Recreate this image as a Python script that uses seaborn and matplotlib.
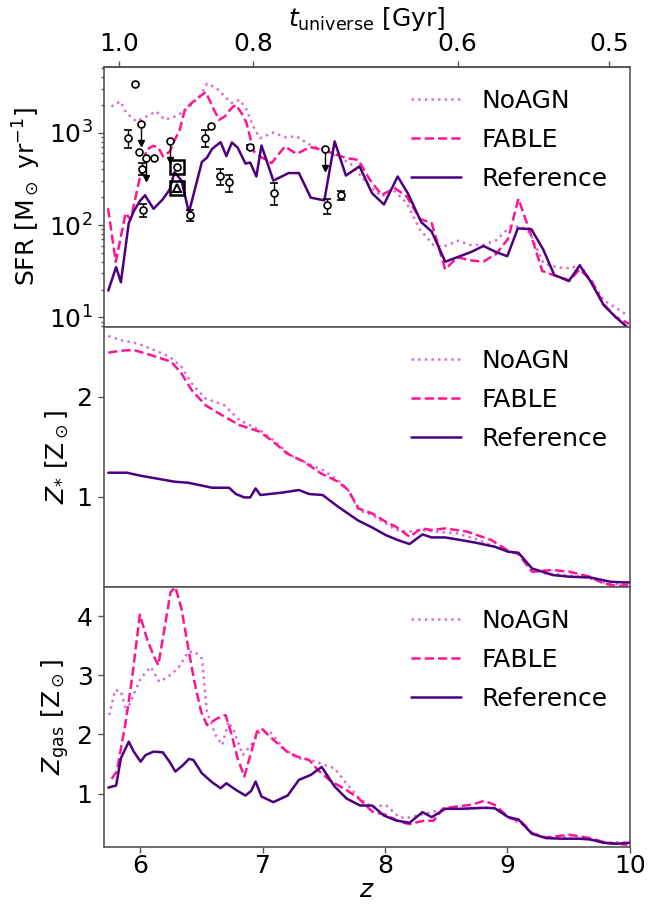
import numpy as np
import matplotlib
matplotlib.use("Agg")
import matplotlib.pyplot as plt
from matplotlib.ticker import NullLocator, LogLocator
import seaborn as sns

# ---------------- data ----------------
# Top panel: SFR [Msun/yr]
sfr_noagn_z = [5.763, 5.837, 5.886, 5.968, 6.050, 6.131, 6.200, 6.281, 6.336, 6.404, 6.486, 6.546,
               6.622, 6.690, 6.745, 6.813, 6.868, 6.922, 6.977, 7.086, 7.181, 7.277, 7.386, 7.495,
               7.604, 7.713, 7.795, 7.877, 7.972, 8.068, 8.177, 8.286, 8.395, 8.477, 8.599, 8.695,
               8.804, 8.913, 9.022, 9.117, 9.186, 9.295, 9.404, 9.513, 9.595, 9.676, 9.785, 9.895, 9.976]
sfr_noagn = [1930, 2189, 1634, 1327, 1503, 1702, 1382, 1503, 1634, 1930, 2478, 3404,
             3055, 2478, 2097, 2279, 1775, 1172, 875, 1007, 897, 912, 741, 653,
             554, 469, 350, 261, 204, 240, 173, 88.6, 60.8, 58.3, 67.8, 60.8,
             60.8, 69, 96, 96, 81.5, 38.5, 34.8, 34.0, 36.9, 25.4, 15.4, 12.5, 10.6]

sfr_fable_z = [5.736, 5.799, 5.880, 5.920, 5.968, 6.009, 6.050, 6.104, 6.145, 6.186, 6.241, 6.282,
               6.322, 6.363, 6.418, 6.486, 6.535, 6.595, 6.644, 6.690, 6.745, 6.780, 6.827, 6.868,
               6.909, 6.928, 6.977, 7.031, 7.072, 7.181, 7.277, 7.386, 7.495, 7.604, 7.686, 7.781,
               7.876, 7.972, 8.081, 8.177, 8.286, 8.381, 8.492, 8.590, 8.715, 8.804, 8.909, 9.007,
               9.090, 9.188, 9.285, 9.396, 9.508, 9.591, 9.689, 9.786, 9.883, 9.995]
sfr_fable = [152, 40, 135, 114, 221, 396, 653, 722, 699, 554, 627, 839,
             1077, 1775, 2097, 2478, 2762, 1851, 1382, 1503, 1851, 2012, 1634, 1273,
             773, 627, 554, 509, 469, 710, 590, 699, 654, 577, 531, 509,
             309, 212, 251, 204, 116, 105, 33, 44.8, 41.1, 40.1, 48.8, 71.5,
             193, 81.2, 31.8, 28.0, 25.1, 33.2, 24.7, 13.9, 10.1, 8.5]

sfr_ref_z = [5.738, 5.802, 5.841, 5.905, 5.946, 5.996, 6.038, 6.108, 6.183, 6.238, 6.280, 6.336,
             6.397, 6.503, 6.544, 6.586, 6.656, 6.703, 6.748, 6.795, 6.859, 6.898, 6.948, 6.990,
             7.087, 7.212, 7.296, 7.393, 7.504, 7.588, 7.680, 7.791, 7.894, 7.991, 8.103, 8.186,
             8.297, 8.381, 8.492, 8.590, 8.701, 8.804, 8.909, 8.999, 9.085, 9.196, 9.291, 9.383,
             9.502, 9.591, 9.675, 9.786, 9.883, 9.995]
sfr_ref = [19.5, 35, 24, 104.7, 141, 182, 210, 150, 190, 241, 375, 303,
           137, 484, 536, 668, 792, 559, 785, 692, 464, 476, 336, 728,
           303, 366, 366, 198, 185, 806, 344, 433, 221, 167, 336, 221,
           107, 85, 40, 44.8, 50.8, 59.3, 50.8, 45.9, 92, 90, 54.9, 28.8,
           24.7, 36.5, 25.1, 13.6, 10.1, 7.5]

# Observations: circles with error bars
obs_z = [5.896, 6.016, 6.024, 6.402, 6.530, 6.655, 6.726, 6.897, 7.092, 7.526, 7.638]
obs_sfr = [880, 408, 145, 129, 880, 340, 290, 710, 225, 163, 210]
obs_err = [195, 60, 22, 18, 180, 70, 60, 35, 62, 30, 22]
# circles without error bars
pt_z = [5.954, 5.988, 6.113, 6.297, 6.581]
pt_sfr = [3420, 625, 527, 427, 1182]
# upper limits
ul_z = [6.005, 6.047, 6.246, 7.510]
ul_sfr = [1253, 527, 819, 668]
# squares and triangle
sq_z = [6.297, 6.297]
sq_sfr = [427, 250]
tri_z = [6.297]
tri_sfr = [250]

# Middle panel: stellar metallicity
zs_noagn_z = [5.738, 5.835, 5.974, 6.113, 6.238, 6.336, 6.419, 6.531, 6.684, 6.809, 6.976, 7.087,
              7.226, 7.337, 7.490, 7.616, 7.699, 7.783, 7.894, 8.005, 8.089, 8.186, 8.297, 8.423,
              8.590, 8.729, 8.896, 9.035, 9.104, 9.201, 9.313, 9.480, 9.675, 9.813, 9.981]
zs_noagn = [2.607, 2.567, 2.533, 2.467, 2.400, 2.300, 2.133, 1.983, 1.917, 1.767, 1.667, 1.567,
            1.417, 1.350, 1.267, 1.167, 1.067, 0.867, 0.817, 0.733, 0.667, 0.650, 0.667, 0.650,
            0.633, 0.583, 0.500, 0.450, 0.417, 0.267, 0.233, 0.217, 0.183, 0.133, 0.117]

zs_fable_z = [5.738, 5.835, 5.946, 6.085, 6.252, 6.336, 6.419, 6.531, 6.642, 6.809, 6.976, 7.087,
              7.198, 7.337, 7.477, 7.616, 7.699, 7.783, 7.894, 8.005, 8.089, 8.200, 8.297, 8.381,
              8.492, 8.673, 8.868, 9.007, 9.090, 9.201, 9.369, 9.508, 9.675, 9.786, 9.897, 9.995]
zs_fable = [2.440, 2.460, 2.467, 2.417, 2.350, 2.233, 2.067, 1.917, 1.833, 1.717, 1.650, 1.550,
            1.433, 1.350, 1.233, 1.150, 1.067, 0.883, 0.833, 0.750, 0.700, 0.600, 0.683, 0.667,
            0.683, 0.650, 0.567, 0.460, 0.427, 0.250, 0.267, 0.250, 0.200, 0.133, 0.107, 0.117]

zs_ref_z = [5.738, 5.891, 6.002, 6.127, 6.280, 6.391, 6.586, 6.725, 6.781, 6.850, 6.898, 6.942,
            6.981, 7.170, 7.296, 7.379, 7.490, 7.616, 7.783, 7.894, 8.005, 8.103, 8.200, 8.306,
            8.381, 8.492, 8.617, 8.729, 8.896, 9.007, 9.090, 9.201, 9.369, 9.508, 9.675, 9.842,
            9.953, 9.995]
zs_ref = [1.240, 1.240, 1.210, 1.183, 1.150, 1.140, 1.090, 1.090, 1.027, 0.993, 0.993, 1.083,
          1.017, 1.043, 1.067, 1.027, 1.017, 0.900, 0.760, 0.693, 0.617, 0.567, 0.527, 0.623,
          0.593, 0.593, 0.567, 0.543, 0.500, 0.450, 0.440, 0.283, 0.217, 0.200, 0.193, 0.150,
          0.143, 0.143]

# Bottom panel: gas metallicity
zg_noagn_z = [5.746, 5.793, 5.841, 5.885, 5.932, 6.002, 6.085, 6.155, 6.224, 6.308, 6.391, 6.447,
              6.503, 6.544, 6.614, 6.670, 6.720, 6.767, 6.837, 6.906, 6.976, 7.059, 7.171, 7.282,
              7.393, 7.504, 7.588, 7.671, 7.783, 7.894, 8.005, 8.117, 8.200, 8.311, 8.423, 8.534,
              8.673, 8.812, 8.896, 9.007, 9.118, 9.201, 9.313, 9.480, 9.647, 9.814, 9.981]
zg_noagn = [2.328, 2.750, 2.733, 2.384, 2.609, 2.947, 3.144, 2.891, 2.975, 3.116, 3.398, 3.398,
            3.285, 2.384, 1.990, 1.822, 2.216, 2.047, 1.653, 1.822, 2.047, 2.047, 1.766, 1.597,
            1.569, 1.484, 1.428, 1.203, 0.932, 0.764, 0.809, 0.595, 0.595, 0.651, 0.707, 0.752,
            0.735, 0.764, 0.752, 0.595, 0.482, 0.325, 0.257, 0.257, 0.229, 0.173, 0.173]

zg_fable_z = [5.765, 5.807, 5.877, 5.932, 5.996, 6.058, 6.113, 6.147, 6.197, 6.247, 6.286, 6.336,
              6.397, 6.442, 6.497, 6.544, 6.628, 6.697, 6.739, 6.795, 6.850, 6.892, 6.953, 6.990,
              7.059, 7.198, 7.282, 7.379, 7.449, 7.560, 7.671, 7.783, 7.894, 8.005, 8.117, 8.200,
              8.311, 8.395, 8.478, 8.590, 8.701, 8.812, 8.896, 9.007, 9.118, 9.201, 9.313, 9.508,
              9.675, 9.814, 9.981]
zg_fable = [1.248, 1.372, 2.165, 2.947, 4.028, 3.594, 3.313, 3.172, 3.791, 4.410, 4.495, 4.129,
            3.398, 2.891, 2.384, 2.159, 2.272, 2.328, 2.047, 1.597, 1.287, 1.597, 2.047, 2.103,
            1.962, 1.709, 1.625, 1.569, 1.400, 1.203, 1.079, 0.921, 0.696, 0.640, 0.527, 0.482,
            0.538, 0.538, 0.752, 0.781, 0.809, 0.876, 0.809, 0.601, 0.516, 0.330, 0.257, 0.302,
            0.246, 0.162, 0.133]

zg_ref_z = [5.738, 5.802, 5.841, 5.905, 5.946, 6.002, 6.044, 6.108, 6.183, 6.238, 6.286, 6.350,
            6.397, 6.433, 6.503, 6.586, 6.656, 6.703, 6.781, 6.859, 6.906, 6.942, 6.990, 7.087,
            7.204, 7.296, 7.393, 7.482, 7.588, 7.685, 7.796, 7.894, 7.991, 8.089, 8.200, 8.306,
            8.381, 8.492, 8.617, 8.729, 8.812, 8.896, 9.007, 9.090, 9.201, 9.313, 9.452, 9.591,
            9.675, 9.786, 9.897, 9.995]
zg_ref = [1.101, 1.135, 1.597, 1.878, 1.709, 1.540, 1.653, 1.709, 1.698, 1.540, 1.372, 1.484,
          1.585, 1.569, 1.343, 1.191, 1.090, 1.174, 1.062, 0.966, 1.045, 1.203, 0.949, 0.854,
          0.966, 1.231, 1.315, 1.450, 1.118, 0.916, 0.797, 0.797, 0.628, 0.544, 0.505, 0.685,
          0.600, 0.741, 0.741, 0.752, 0.758, 0.752, 0.600, 0.561, 0.319, 0.246, 0.235, 0.235,
          0.223, 0.167, 0.150, 0.167]

x_ticks = [6, 7, 8, 9, 10]
t_ticks = [1.0, 0.8, 0.6, 0.5]
t_ticklabels = ["1.0", "0.8", "0.6", "0.5"]

# ---------------- style ----------------
sns.set_theme(style="ticks")
plt.rcParams.update({
    "font.family": ["DejaVu Sans"],
    "mathtext.fontset": "dejavusans",
    "font.size": 18,
    "axes.labelsize": 18,
    "xtick.labelsize": 18,
    "ytick.labelsize": 18,
    "legend.fontsize": 18,
    "axes.edgecolor": "#555555",
    "axes.linewidth": 1.2,
    "xtick.color": "#555555",
    "ytick.color": "#555555",
    "xtick.labelcolor": "black",
    "ytick.labelcolor": "black",
    "xtick.major.size": 4.5,
    "ytick.major.size": 4.5,
    "xtick.minor.size": 2.5,
    "ytick.minor.size": 2.5,
    "xtick.major.width": 1.0,
    "ytick.major.width": 1.0,
    "axes.labelcolor": "black",
    "text.color": "black",
})

C_NOAGN = "orchid"
C_FABLE = "deeppink"
C_REF = "indigo"
LW = 1.8

fig, axes = plt.subplots(3, 1, figsize=(6.56, 9.08), dpi=100, sharex=True)
fig.subplots_adjust(left=0.158, right=0.960, top=0.9265, bottom=0.0675, hspace=0)
ax0, ax1, ax2 = axes


def draw_series(ax, zn, vn, zf, vf, zr, vr):
    sns.lineplot(x=zn, y=vn, ax=ax, color=C_NOAGN, linestyle=":", lw=LW,
                 label="NoAGN", sort=False, estimator=None, zorder=2)
    sns.lineplot(x=zf, y=vf, ax=ax, color=C_FABLE, linestyle="--", lw=LW,
                 label="FABLE", sort=False, estimator=None, zorder=3)
    sns.lineplot(x=zr, y=vr, ax=ax, color=C_REF, linestyle="-", lw=LW,
                 label="Reference", sort=False, estimator=None, zorder=4)
    ax.legend(loc="upper right", frameon=False, labelspacing=0.6)


draw_series(ax0, sfr_noagn_z, sfr_noagn, sfr_fable_z, sfr_fable, sfr_ref_z, sfr_ref)
draw_series(ax1, zs_noagn_z, zs_noagn, zs_fable_z, zs_fable, zs_ref_z, zs_ref)
draw_series(ax2, zg_noagn_z, zg_noagn, zg_fable_z, zg_fable, zg_ref_z, zg_ref)

# observations
ax0.errorbar(obs_z, obs_sfr, yerr=obs_err, fmt="o", mfc="white", mec="black", ecolor="black",
             ms=5, mew=1.2, elinewidth=1.0, capsize=3, capthick=1.0, zorder=6)
ax0.plot(pt_z, pt_sfr, "o", mfc="white", mec="black", ms=5, mew=1.2, ls="none", zorder=6)
ul_tip = np.asarray(ul_sfr) * 0.62
ax0.vlines(ul_z, ul_tip, ul_sfr, color="black", lw=1.0, zorder=5)
ax0.plot(ul_z, ul_tip, "v", color="black", ms=5, ls="none", zorder=6)
ax0.plot(ul_z, ul_sfr, "o", mfc="white", mec="black", ms=5, mew=1.2, ls="none", zorder=7)
ax0.plot(sq_z, sq_sfr, "s", mfc="none", mec="black", ms=10, mew=1.8, ls="none", zorder=6)
ax0.plot(tri_z, tri_sfr, "^", mfc="white", mec="black", ms=6, mew=1.5, ls="none", zorder=7)

# axes setup
ax0.set_yscale("log")
ax0.set_ylim(7.9, 5200)
ax0.yaxis.set_major_locator(LogLocator(base=10, numticks=10))
ax0.yaxis.set_minor_locator(LogLocator(base=10, subs=np.arange(2, 10), numticks=20))
ax0.set_ylabel(r"SFR [M$_\odot$ yr$^{-1}$]")

ax1.set_ylim(0.1, 2.7)
ax1.set_yticks([1, 2])
ax1.set_ylabel(r"$Z_{*}$ [Z$_\odot$]")

ax2.set_ylim(0.1, 4.5)
ax2.set_yticks([1, 2, 3, 4])
ax2.set_ylabel(r"$Z_{\rm gas}$ [Z$_\odot$]")

ax2.set_xlim(5.7, 10)
ax2.set_xticks(x_ticks)
ax2.tick_params(axis="x", pad=0.5)
ax2.set_xlabel(r"$z$", labelpad=0)

for ax in (ax0, ax1):
    ax.tick_params(axis="x", which="both", bottom=False, labelbottom=False)
    ax.set_xlabel("")

T0 = 17.83


def z2t(z):
    z = np.asarray(z, dtype=float)
    return T0 * np.power(np.clip(1.0 + z, 1e-3, None), -1.5)


def t2z(t):
    t = np.asarray(t, dtype=float)
    return np.power(T0 / np.clip(t, 1e-6, None), 2.0 / 3.0) - 1.0


sec = ax0.secondary_xaxis("top", functions=(z2t, t2z))
sec.set_xticks(t_ticks)
sec.set_xticklabels(t_ticklabels)
sec.xaxis.set_minor_locator(NullLocator())
sec.set_xlabel(r"$t_{\rm universe}$ [Gyr]")

fig.savefig("out.png", dpi=100)
